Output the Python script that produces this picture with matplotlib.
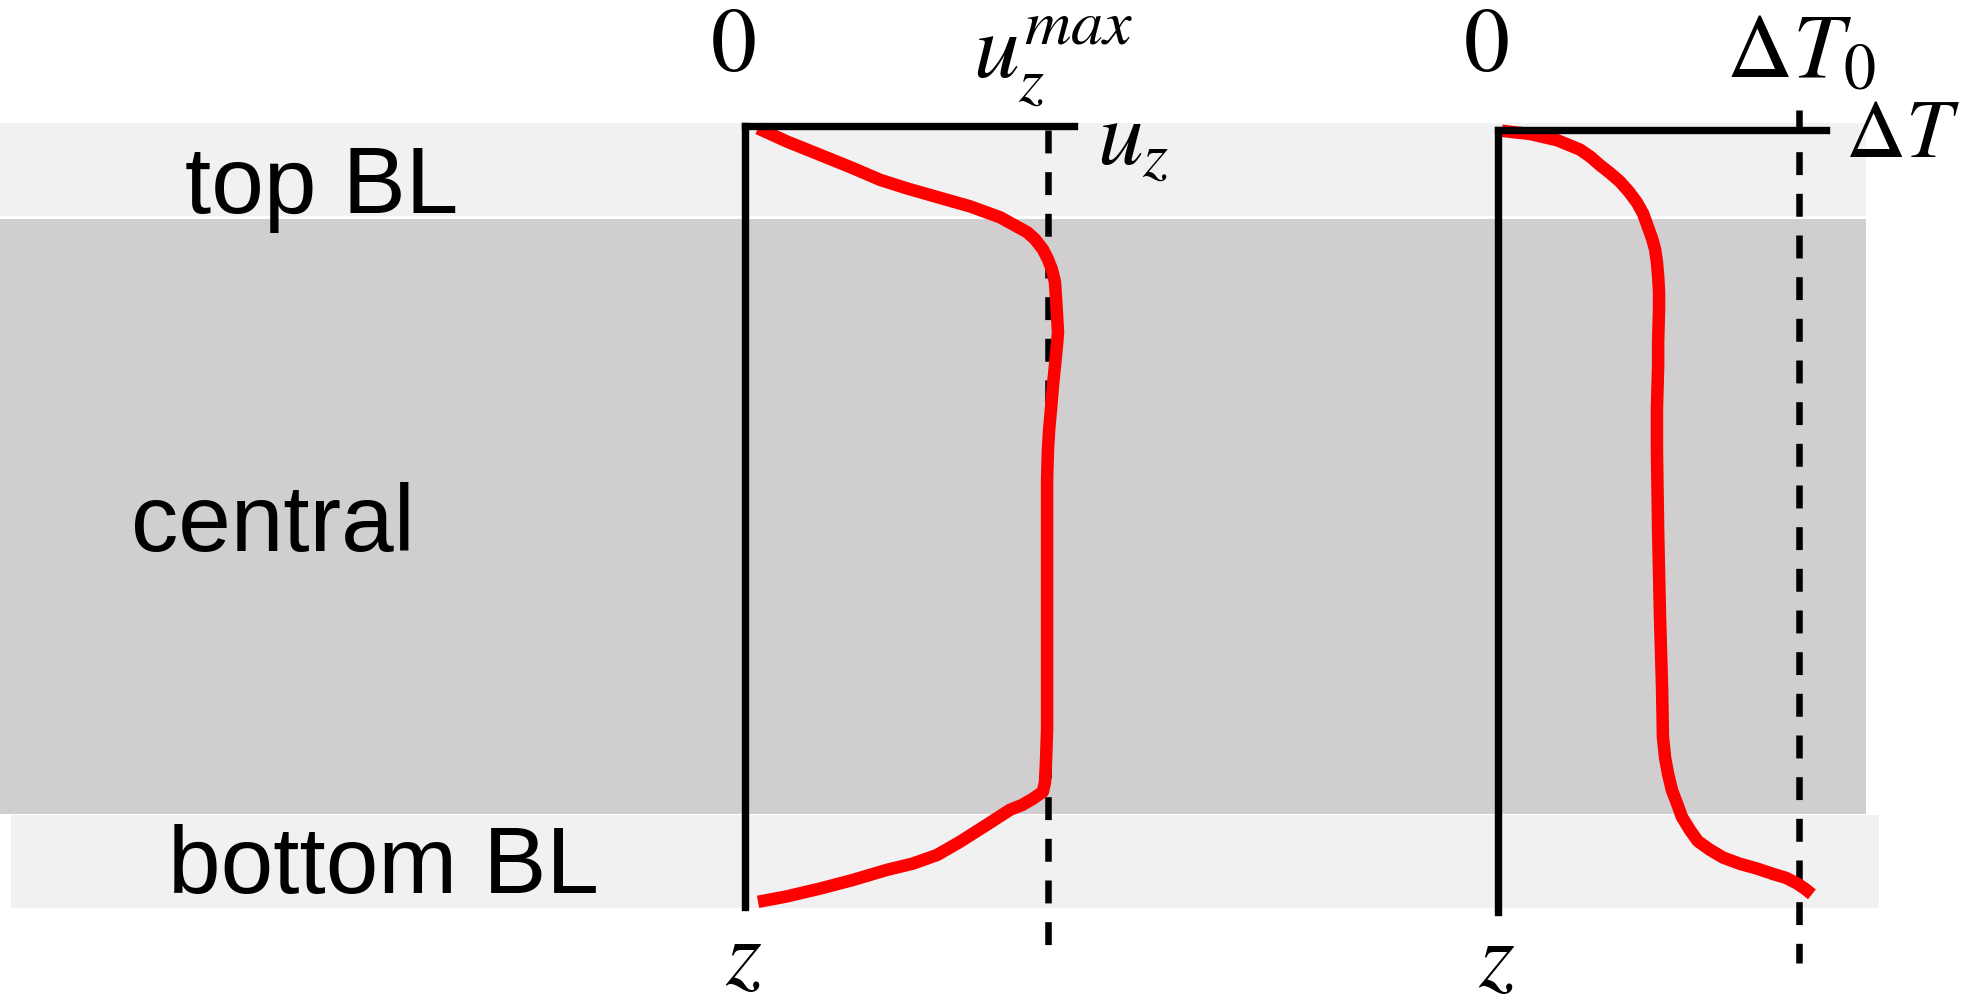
import matplotlib
matplotlib.use("Agg")
import matplotlib.pyplot as plt
from matplotlib.patches import Rectangle

plt.rcParams["mathtext.fontset"] = "stix"
plt.rcParams["font.family"] = ["Liberation Sans", "DejaVu Sans"]
plt.rcParams["lines.scale_dashes"] = False

W, H, DPI = 1964, 1002, 100

region_labels = ["top BL", "central", "bottom BL"]

# Vertical velocity profile: u_z / u_z^max against normalised depth (0 = top plate, 1 = bottom plate)
uz_depth = [0.003, 0.020, 0.037, 0.054, 0.069, 0.080, 0.091, 0.103, 0.117, 0.136,
            0.145, 0.158, 0.171, 0.184, 0.200, 0.218, 0.244, 0.264, 0.279, 0.307,
            0.330, 0.362, 0.388, 0.413, 0.439, 0.455, 0.774, 0.818, 0.841, 0.853,
            0.862, 0.870, 0.876, 0.895, 0.917, 0.934, 0.945, 0.953, 0.966, 0.977,
            0.987, 0.994]
uz_profile = [0.043, 0.139, 0.248, 0.356, 0.446, 0.535, 0.634, 0.743, 0.842, 0.931,
              0.957, 0.983, 1.000, 1.013, 1.023, 1.026, 1.030, 1.033, 1.030, 1.023,
              1.017, 1.010, 1.004, 1.000, 0.998, 0.997, 0.997, 0.993, 0.990, 0.983,
              0.950, 0.914, 0.875, 0.799, 0.710, 0.634, 0.554, 0.469, 0.356, 0.248,
              0.139, 0.043]

# Temperature profile: dT / dT_0 against normalised depth
dT_depth = [0.001, 0.003, 0.005, 0.013, 0.025, 0.034, 0.045, 0.055, 0.066, 0.079,
            0.093, 0.107, 0.124, 0.139, 0.153, 0.169, 0.187, 0.207, 0.229, 0.271,
            0.302, 0.357, 0.408, 0.513, 0.620, 0.713, 0.777, 0.803, 0.824, 0.845,
            0.862, 0.879, 0.896, 0.910, 0.921, 0.931, 0.939, 0.945, 0.952, 0.957,
            0.964, 0.971, 0.978]
dT_profile = [0.013, 0.056, 0.106, 0.196, 0.272, 0.306, 0.339, 0.372, 0.405, 0.435,
              0.462, 0.482, 0.498, 0.512, 0.522, 0.528, 0.532, 0.535, 0.535, 0.532,
              0.532, 0.528, 0.528, 0.532, 0.538, 0.545, 0.548, 0.555, 0.565, 0.578,
              0.595, 0.611, 0.638, 0.664, 0.704, 0.748, 0.804, 0.860, 0.914, 0.957,
              0.993, 1.020, 1.043]

RED = "#ff0000"
LIGHT = "#f1f1f1"
DARK = "#d0cecf"

fig = plt.figure(figsize=(W / DPI, H / DPI), dpi=DPI)

# background layer in pixel units
bg = fig.add_axes([0, 0, 1, 1])
bg.set_xlim(0, W)
bg.set_ylim(H, 0)
bg.axis("off")

bg.add_patch(Rectangle((0, 123), 1866, 93, facecolor=LIGHT, edgecolor="none"))
bg.add_patch(Rectangle((0, 218.5), 1866, 595, facecolor=DARK, edgecolor="none"))
bg.add_patch(Rectangle((11, 815), 1868, 93, facecolor=LIGHT, edgecolor="none"))

label_kw = dict(fontsize=68, ha="center", va="baseline", color="black")
bg.text(322, 213, region_labels[0], **label_kw)
bg.text(273, 551, region_labels[1], **label_kw)
bg.text(384, 893, region_labels[2], **label_kw)


def profile_axes(x0, x_unit, x_end, y_top, y_bottom):
    ax = fig.add_axes([x0 / W, 1 - y_bottom / H, (x_end - x0) / W, (y_bottom - y_top) / H])
    ax.set_xlim(0, (x_end - x0) / x_unit)
    ax.set_ylim(1, 0)
    ax.patch.set_visible(False)
    for side in ("right", "bottom"):
        ax.spines[side].set_visible(False)
    for side in ("left", "top"):
        ax.spines[side].set_linewidth(5.3)
        ax.spines[side].set_color("black")
    ax.set_xticks([])
    ax.set_yticks([])
    return ax


# velocity panel
ax1 = profile_axes(745, 303, 1073.5, 126, 906.5)
ax1.plot([1, 1], [0.005, 1.06], color="black", lw=4.7,
         dashes=(16.5, 13.5), clip_on=False, solid_capstyle="butt")
ax1.plot(uz_profile, uz_depth, color=RED, lw=9, clip_on=False,
         solid_capstyle="butt", solid_joinstyle="round")

# temperature panel
ax2 = profile_axes(1498, 301, 1825.5, 130, 911.5)
ax2.plot([1, 1], [-0.025, 1.066], color="black", lw=4.7,
         dashes=(16.5, 13.5), clip_on=False, zorder=1)
ax2.plot(dT_profile, dT_depth, color=RED, lw=9, clip_on=False,
         solid_capstyle="butt", solid_joinstyle="round")

math_kw = dict(fontsize=66, color="black", va="baseline")
bg.text(733, 71, r"$0$", ha="center", **math_kw)
bg.text(973, 77, r"$u_z^{max}$", ha="left", **math_kw)
bg.text(1097, 164, r"$u_z$", ha="left", **math_kw)
bg.text(744, 984, r"$z$", ha="center", **math_kw)

bg.text(1486, 71, r"$0$", ha="center", **math_kw)
bg.text(1726, 77, r"$\Delta T_0$", ha="left", **math_kw)
bg.text(1960, 157, r"$\Delta T$", ha="right", fontsize=60, color="black", va="baseline")
bg.text(1497, 986, r"$z$", ha="center", **math_kw)

fig.savefig("out.png", dpi=DPI)
